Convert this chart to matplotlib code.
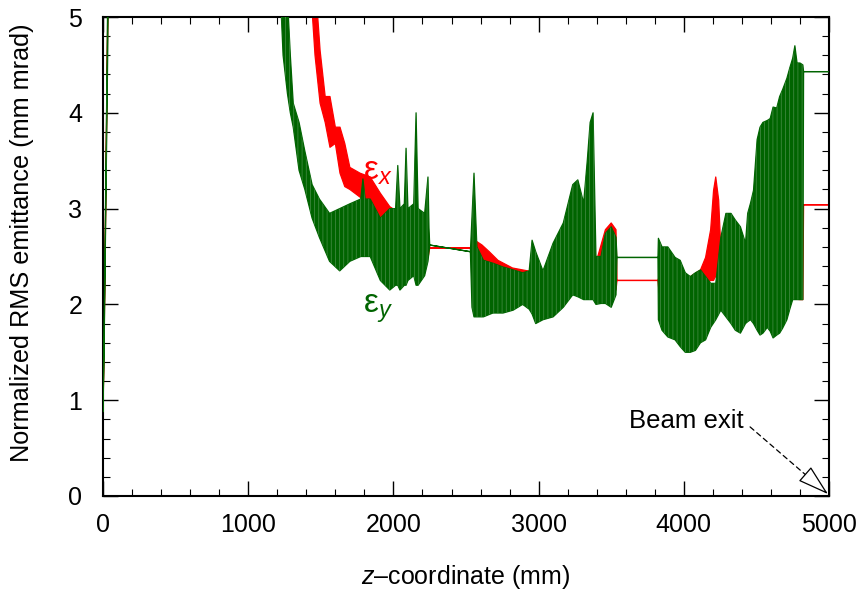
import matplotlib
matplotlib.use("Agg")
import matplotlib.pyplot as plt
import numpy as np

plt.rcParams["font.family"] = ["Liberation Sans", "DejaVu Sans"]
plt.rcParams["mathtext.fontset"] = "custom"
plt.rcParams["mathtext.rm"] = "Liberation Sans"
plt.rcParams["mathtext.it"] = "Liberation Sans:italic"
plt.rcParams["hatch.linewidth"] = 0.5

# Horizontal emittance (red): z positions with lower / upper envelope of the oscillation
z_x = [0, 8, 16, 24, 32, 40, 600, 1400,
       1460, 1495, 1530, 1563, 1600, 1632, 1665, 1700, 1770, 1840, 1910, 1975,
       2045, 2115, 2185, 2240, 2250, 2530,
       2541, 2570, 2610, 2660, 2720, 2820, 2960, 3060, 3170, 3300, 3400, 3460,
       3500, 3533, 3540, 3822,
       3830, 4045, 4115, 4150, 4185, 4205, 4220, 4240, 4260, 4400, 4600, 4800,
       4820, 4825, 5000]
ex_lo = [0.88, 1.7, 2.7, 3.8, 4.9, 6.2, 8.0, 6.0,
         4.6, 4.1, 3.9, 3.64, 3.68, 3.37, 3.23, 3.2, 3.12, 3.09, 2.88, 2.75,
         2.64, 2.6, 2.54, 2.5, 2.59, 2.59,
         2.45, 2.5, 2.45, 2.4, 2.33, 2.25, 2.23, 2.22, 2.2, 2.15, 2.22, 2.36,
         2.46, 2.15, 2.25, 2.25,
         2.12, 2.12, 2.15, 2.22, 2.25, 2.25, 2.3, 2.22, 2.1, 2.1, 2.08, 2.05,
         2.05, 3.04, 3.04]
ex_hi = [0.88, 1.8, 2.8, 3.9, 5.0, 6.4, 8.0, 6.0,
         5.4, 4.65, 4.17, 4.17, 3.85, 3.85, 3.68, 3.43, 3.37, 3.33, 3.16, 3.02,
         2.95, 2.91, 2.81, 2.78, 2.59, 2.59,
         2.6, 2.66, 2.62, 2.55, 2.46, 2.38, 2.34, 2.33, 2.3, 2.33, 2.46, 2.78,
         2.85, 2.78, 2.25, 2.25,
         2.29, 2.29, 2.36, 2.49, 2.78, 3.19, 3.33, 3.09, 2.4, 2.35, 2.3, 2.22,
         3.04, 3.04, 3.04]

# Vertical emittance (green)
z_y = [0, 8, 16, 24, 32, 40, 600, 1200,
       1240, 1270, 1290, 1310, 1350, 1390, 1440, 1490, 1560, 1630, 1700, 1775,
       1790, 1805, 1840, 1910, 1975, 2015, 2030, 2045, 2075, 2087, 2100, 2140,
       2156, 2170, 2215, 2238, 2245, 2250, 2530,
       2541, 2555, 2575, 2620, 2685, 2755, 2825, 2890, 2935, 2955, 2980, 3030,
       3100, 3170, 3235, 3270, 3310, 3335, 3355, 3375, 3395, 3430, 3460, 3500,
       3533, 3540, 3822,
       3825, 3850, 3890, 3940, 3975, 4010, 4045, 4080, 4115, 4150, 4185, 4220,
       4255, 4290, 4325, 4355, 4390, 4425, 4440, 4460, 4480, 4505, 4525, 4545,
       4575, 4595, 4615, 4640, 4660, 4680, 4710, 4730, 4750, 4765, 4780, 4800,
       4820, 4825, 5000]
ey_lo = [0.88, 1.6, 2.6, 3.6, 4.6, 6.0, 8.0, 6.0,
         4.6, 4.2, 4.0, 3.85, 3.4, 3.2, 2.9, 2.7, 2.45, 2.35, 2.45, 2.5,
         2.5, 2.5, 2.5, 2.25, 2.15, 2.2, 2.2, 2.15, 2.2, 2.2, 2.25, 2.3,
         2.2, 2.2, 2.3, 2.45, 2.55, 2.62, 2.55,
         1.97, 1.87, 1.87, 1.87, 1.91, 1.91, 1.94, 2.0, 1.95, 1.9, 1.8, 1.84,
         1.87, 1.97, 2.1, 2.08, 2.05, 2.05, 2.05, 2.05, 2.0, 2.01, 2.01, 1.97,
         2.1, 2.49, 2.49,
         1.84, 1.73, 1.66, 1.63, 1.56, 1.5, 1.5, 1.52, 1.6, 1.63, 1.76, 1.84,
         1.94, 1.87, 1.8, 1.73, 1.7, 1.8, 1.82, 1.84, 1.8, 1.73, 1.68, 1.7,
         1.76, 1.72, 1.65, 1.68, 1.7, 1.75, 1.84, 1.95, 2.05, 2.05, 2.05, 2.05,
         2.05, 4.43, 4.43]
ey_hi = [0.88, 1.8, 2.9, 4.0, 5.2, 6.5, 8.0, 6.5,
         5.5, 5.2, 4.6, 4.1, 3.9, 3.6, 3.25, 3.1, 2.95, 3.0, 3.05, 3.1,
         3.31, 3.1, 3.1, 2.9, 3.0, 3.0, 3.45, 3.0, 3.05, 3.63, 3.0, 3.05,
         4.0, 3.0, 2.95, 3.33, 2.8, 2.62, 2.55,
         2.91, 3.37, 2.6, 2.46, 2.43, 2.39, 2.36, 2.33, 2.35, 2.67, 2.55, 2.35,
         2.64, 2.85, 3.25, 3.3, 3.06, 3.5, 3.9, 4.0, 2.5, 2.5, 2.74, 2.81,
         2.7, 2.49, 2.49,
         2.69, 2.6, 2.6, 2.49, 2.46, 2.33, 2.29, 2.33, 2.36, 2.29, 2.22, 2.22,
         2.7, 2.95, 2.95, 2.88, 2.81, 2.64, 2.95, 3.06, 3.19, 3.72, 3.85, 3.9,
         3.92, 3.94, 4.06, 4.05, 4.17, 4.24, 4.36, 4.47, 4.57, 4.7, 4.52, 4.52,
         4.5, 4.43, 4.43]

RED = "#ff0000"
GREEN = "#006400"
GREEN_LIGHT = "#4a8f4a"

fig = plt.figure(figsize=(8.63, 5.97), dpi=100)
ax = fig.add_axes([0.1194, 0.1692, 0.8412, 0.8023])

ax.fill_between(z_x, ex_lo, ex_hi, facecolor=RED, edgecolor=RED, lw=0.9, zorder=2)
ax.fill_between(z_y, ey_lo, ey_hi, facecolor=GREEN, edgecolor=GREEN, lw=0.9, zorder=3)
# fine vertical striping of the rapidly oscillating trace
ax.fill_between(z_y, ey_lo, ey_hi, facecolor="none", edgecolor=GREEN_LIGHT,
                hatch="||||", lw=0, zorder=3.5)

ax.set_xlim(0, 5000)
ax.set_ylim(0, 5)
ax.set_xticks(np.arange(0, 5001, 1000))
ax.set_xticks(np.arange(0, 5001, 200), minor=True)
ax.set_yticks(np.arange(0, 6, 1))
ax.set_yticks(np.arange(0, 5.01, 0.2), minor=True)
ax.tick_params(which="both", direction="in", top=True, right=True, labelsize=18)
ax.tick_params(which="major", length=10.5, width=1.0)
ax.tick_params(which="minor", length=5, width=0.8)
ax.tick_params(axis="x", which="major", pad=12)
ax.tick_params(axis="y", which="major", pad=15)
for s in ax.spines.values():
    s.set_linewidth(1.5)

fig.text(0.54, 0.034, "$z$–coordinate (mm)", ha="center", va="center", fontsize=18)
fig.text(0.026, 0.593, "Normalized RMS emittance (mm mrad)", rotation=90,
         ha="center", va="center", fontsize=18.2)

ax.text(1790, 3.30, "ε${}_{x}$", color=RED, fontsize=24, ha="left", va="baseline")
ax.text(1790, 1.91, "ε${}_{y}$", color=GREEN, fontsize=24, ha="left", va="baseline")

# Beam exit marker: dashed leader with an open arrow head at the end of the line
ax.text(4415, 0.78, "Beam exit", fontsize=18.5, ha="right", va="center")
ax.annotate("", xy=(4993, 0.02), xytext=(4442, 0.74),
            arrowprops=dict(arrowstyle="-", linestyle=(0, (4, 3)), color="black", lw=0.9),
            annotation_clip=False, zorder=5)
ax.annotate("", xy=(4993, 0.02), xytext=(4872, 0.18),
            arrowprops=dict(arrowstyle="-|>,head_length=1.0,head_width=0.3",
                            fc="white", ec="black", lw=0.9, mutation_scale=20,
                            shrinkA=0, shrinkB=0),
            annotation_clip=False, zorder=6)

fig.savefig("out.png", dpi=100)
